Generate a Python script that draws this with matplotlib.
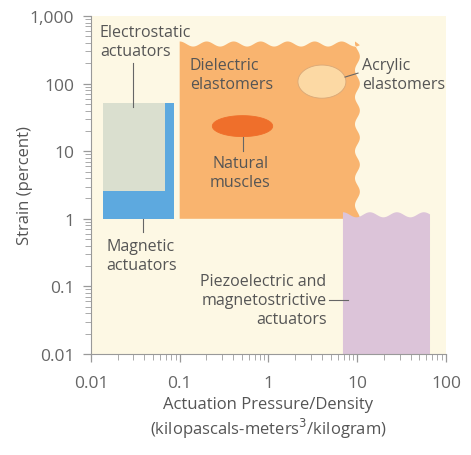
import numpy as np
import matplotlib
matplotlib.use("Agg")
import matplotlib.pyplot as plt

plt.rcParams['font.family'] = ['Open Sans', 'DejaVu Sans']

# Axis ticks
x_ticks = [0.01, 0.1, 1, 10, 100]
x_tick_labels = ["0.01", "0.1", "1", "10", "100"]
y_ticks = [0.01, 0.1, 1, 10, 100, 1000]
y_tick_labels = ["0.01", "0.1", "1", "10", "100", "1,000"]

# Actuator regions: (x range, strain range)
electrostatic_x = [0.0137, 0.068]
electrostatic_y = [2.6, 52]
magnetic_x = [0.0137, 0.086]
magnetic_y = [1, 52]
dielectric_x = [0.1, 10.7]
dielectric_y = [1, 420]
piezo_x = [6.9, 66]
piezo_y = [0.01, 1.25]

# Ellipses: centre (x, y), width and height in decades
muscle_center = (0.51, 23.5)
muscle_size = (0.68, 0.31)
acrylic_center = (4.0, 107)
acrylic_size = (0.54, 0.49)

# Labels: text, x, y, horizontal alignment
labels = [
    ("Electrostatic\nactuators", 0.0126, 419, "left"),
    ("Dielectric\nelastomers", 0.13, 138, "left"),
    ("Natural\nmuscles", 0.48, 4.9, "center"),
    ("Acrylic\nelastomers", 11.3, 138, "left"),
    ("Magnetic\nactuators", 0.0148, 0.29, "left"),
    ("Piezoelectric and\nmagnetostrictive\nactuators", 4.5, 0.064, "right"),
]
# Leader lines: (x0, x1), (y0, y1)
leaders = [
    ((0.03, 0.03), (200, 45)),
    ((0.0385, 0.0385), (1.0, 0.63)),
    ((0.52, 0.52), (16, 10)),
    ((7.3, 10.2), (125, 143)),
    ((4.8, 7.9), (0.064, 0.064)),
]

text_color = "#555555"
cream = "#fdf8e4"


def wavy_box(ax, xr, yr, color, top_wave=True, right_wave=False):
    # build the box in log space, scalloped edges are decoration only
    lx0, lx1 = np.log10(xr)
    ly0, ly1 = np.log10(yr)
    px, py = [], []
    px += [lx0, lx1] if not right_wave else [lx0]
    py += [ly0, ly0] if not right_wave else [ly0]
    if right_wave:
        t = np.linspace(ly0, ly1, 200)
        period = 0.40
        amp = 0.055
        px += list(lx1 - amp * 0.5 * (1 - np.cos(2 * np.pi * (t - ly0) / period)))
        py += list(t)
    else:
        px += [lx1]
        py += [ly1]
    if top_wave:
        s = np.linspace(lx1, lx0, 300)
        period = 0.304
        amp = 0.075
        px += list(s)
        py += list(ly1 - amp * 0.5 * (1 - np.cos(2 * np.pi * (s - lx0) / period)))
    else:
        px += [lx0]
        py += [ly1]
    ax.fill(10 ** np.array(px), 10 ** np.array(py), color=color, lw=0, zorder=2)


def log_ellipse(ax, center, size, face, edge):
    t = np.linspace(0, 2 * np.pi, 200)
    ex = 10 ** (np.log10(center[0]) + size[0] / 2 * np.cos(t))
    ey = 10 ** (np.log10(center[1]) + size[1] / 2 * np.sin(t))
    ax.fill(ex, ey, facecolor=face, edgecolor=edge, lw=0.6, zorder=3)


fig = plt.figure(figsize=(4.71, 4.56), dpi=100)
ax = fig.add_axes([0.193, 0.2215, 0.754, 0.7412])
ax.set_xscale("log")
ax.set_yscale("log")
ax.set_xlim(0.01, 100)
ax.set_ylim(0.01, 1000)
ax.set_facecolor(cream)

# magnetic (blue) under electrostatic (grey)
ax.fill_between(magnetic_x, magnetic_y[0], magnetic_y[1], color="#5da9df", lw=0, zorder=2)
ax.fill_between(electrostatic_x, electrostatic_y[0], electrostatic_y[1],
                color="#dadfcf", lw=0, zorder=2)
wavy_box(ax, dielectric_x, dielectric_y, "#f9b46f", top_wave=True, right_wave=True)
wavy_box(ax, piezo_x, piezo_y, "#dcc4d9", top_wave=True)

log_ellipse(ax, muscle_center, muscle_size, "#ef6f2b", "#ef6f2b")
log_ellipse(ax, acrylic_center, acrylic_size, "#fcd9a4", "#d9a878")

for text, x, y, ha in labels:
    ax.text(x, y, text, ha=ha, va="center", multialignment=ha,
            fontsize=11.5, color=text_color, linespacing=1.25, zorder=5)
for (x0, x1), (y0, y1) in leaders:
    ax.plot([x0, x1], [y0, y1], color="#666666", lw=0.8, zorder=4)

ax.set_xticks(x_ticks)
ax.set_xticklabels(x_tick_labels)
ax.set_yticks(y_ticks)
ax.set_yticklabels(y_tick_labels)
ax.tick_params(which="major", length=6, width=0.9, color="#999999",
               labelsize=12.5, labelcolor="#666666", pad=6)
ax.tick_params(axis="x", which="major", pad=9)
ax.tick_params(which="minor", length=4, width=0.7, color="#aaaaaa")
for side in ["top", "right"]:
    ax.spines[side].set_visible(False)
for side in ["left", "bottom"]:
    ax.spines[side].set_color("#999999")

ax.set_ylabel("Strain (percent)", fontsize=12, color=text_color)
ax.yaxis.set_label_coords(-0.163, 0.5)
ax.set_xlabel("Actuation Pressure/Density\n(kilopascals-meters$^3$/kilogram)",
              fontsize=12, color=text_color, linespacing=1.2)
ax.xaxis.set_label_coords(0.5, -0.125)

plt.savefig("out.png", dpi=100)
